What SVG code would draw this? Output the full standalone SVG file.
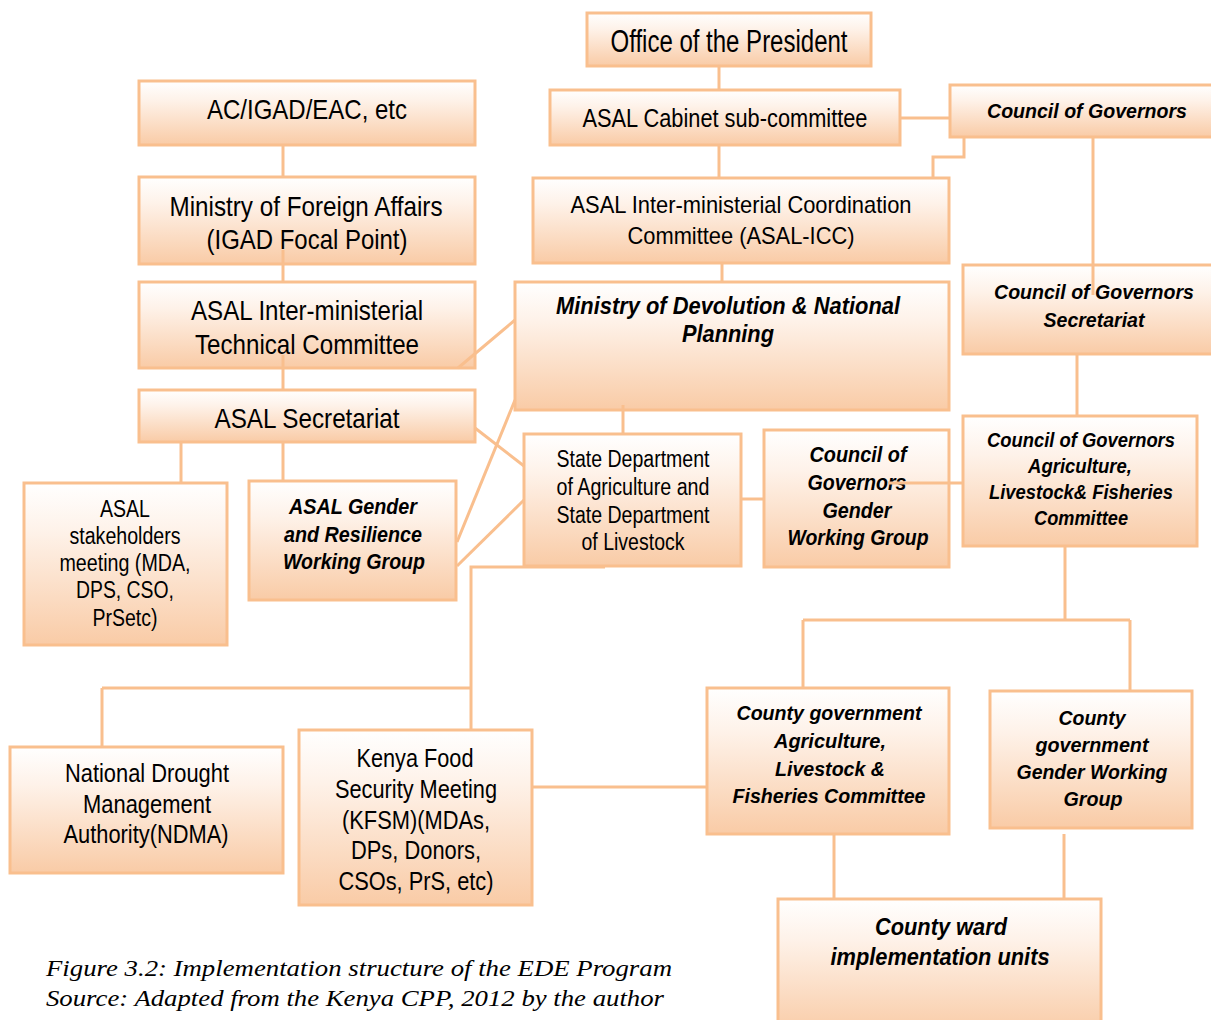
<svg xmlns="http://www.w3.org/2000/svg" width="1211" height="1020" viewBox="0 0 1211 1020">
<defs>
<linearGradient id="g" x1="0" y1="0" x2="0" y2="1">
<stop offset="0" stop-color="#FFFFFF"/>
<stop offset="0.3" stop-color="#FEF2E9"/>
<stop offset="1" stop-color="#F9CBA6"/>
</linearGradient>
<style>
.box{fill:url(#g);stroke:#F9BF8E;stroke-width:3}
.c{fill:none;stroke:#F9BF8E;stroke-width:3}
.t{font-family:"Liberation Sans",Arial,sans-serif;fill:#000;text-anchor:middle}
.bi{font-weight:bold;font-style:italic}
</style>
</defs>
<rect width="1211" height="1020" fill="#fff"/>
<g id="n-president"><rect class="box" x="587" y="13" width="284" height="53"/>
<text class="t" x="729" y="52" font-size="31" textLength="237" lengthAdjust="spacingAndGlyphs">Office of the President</text></g>
<g id="n-cabinet"><rect class="box" x="550" y="90" width="350" height="55"/>
<text class="t" x="725" y="127" font-size="25" textLength="285" lengthAdjust="spacingAndGlyphs">ASAL Cabinet sub-committee</text></g>
<g id="n-cog"><rect class="box" x="950" y="85" width="275" height="52"/>
<text class="t bi" x="1087" y="118" font-size="21" textLength="200" lengthAdjust="spacingAndGlyphs">Council of Governors</text></g>
<g id="n-ac"><rect class="box" x="139" y="81" width="336" height="64"/>
<text class="t" x="307" y="119" font-size="28" textLength="200" lengthAdjust="spacingAndGlyphs">AC/IGAD/EAC, etc</text></g>
<g id="n-mofa"><rect class="box" x="139" y="177" width="336" height="87"/>
<text class="t" x="306" y="216" font-size="28" textLength="273" lengthAdjust="spacingAndGlyphs">Ministry of Foreign Affairs</text>
<text class="t" x="307" y="249" font-size="28" textLength="201" lengthAdjust="spacingAndGlyphs">(IGAD Focal Point)</text></g>
<g id="n-icc"><rect class="box" x="533" y="178" width="416" height="85"/>
<text class="t" x="741" y="213" font-size="24" textLength="341" lengthAdjust="spacingAndGlyphs">ASAL Inter-ministerial Coordination</text>
<text class="t" x="741" y="244" font-size="24" textLength="227" lengthAdjust="spacingAndGlyphs">Committee (ASAL-ICC)</text></g>
<g id="n-tech"><rect class="box" x="139" y="282" width="336" height="86"/>
<text class="t" x="307" y="320" font-size="28" textLength="232" lengthAdjust="spacingAndGlyphs">ASAL Inter-ministerial</text>
<text class="t" x="307" y="354" font-size="28" textLength="224" lengthAdjust="spacingAndGlyphs">Technical Committee</text></g>
<g id="n-mod"><rect class="box" x="515" y="282" width="434" height="128"/>
<text class="t bi" x="728" y="314" font-size="23" textLength="344" lengthAdjust="spacingAndGlyphs">Ministry of Devolution &amp; National</text>
<text class="t bi" x="728" y="342" font-size="23" textLength="92" lengthAdjust="spacingAndGlyphs">Planning</text></g>
<g id="n-cogsec"><rect class="box" x="963" y="265" width="260" height="89"/>
<text class="t bi" x="1094" y="299" font-size="21" textLength="200" lengthAdjust="spacingAndGlyphs">Council of Governors</text>
<text class="t bi" x="1094" y="327" font-size="21" textLength="101" lengthAdjust="spacingAndGlyphs">Secretariat</text></g>
<g id="n-secretariat"><rect class="box" x="139" y="390" width="336" height="52"/>
<text class="t" x="307" y="428" font-size="28" textLength="185" lengthAdjust="spacingAndGlyphs">ASAL Secretariat</text></g>
<g id="n-statedept"><rect class="box" x="524" y="434" width="217" height="132"/>
<text class="t" x="633" y="467" font-size="23" textLength="153" lengthAdjust="spacingAndGlyphs">State Department</text>
<text class="t" x="633" y="495" font-size="23" textLength="153" lengthAdjust="spacingAndGlyphs">of Agriculture and</text>
<text class="t" x="633" y="523" font-size="23" textLength="153" lengthAdjust="spacingAndGlyphs">State Department</text>
<text class="t" x="633" y="550" font-size="23" textLength="103" lengthAdjust="spacingAndGlyphs">of Livestock</text></g>
<g id="n-coggender"><rect class="box" x="764" y="430" width="185" height="137"/>
<text class="t bi" x="858" y="462" font-size="22" textLength="97" lengthAdjust="spacingAndGlyphs">Council of</text>
<text class="t bi" x="857" y="490" font-size="22" textLength="99" lengthAdjust="spacingAndGlyphs">Governors</text>
<text class="t bi" x="857" y="518" font-size="22" textLength="69" lengthAdjust="spacingAndGlyphs">Gender</text>
<text class="t bi" x="858" y="545" font-size="22" textLength="141" lengthAdjust="spacingAndGlyphs">Working Group</text></g>
<g id="n-cogagri"><rect class="box" x="963" y="416" width="234" height="130"/>
<text class="t bi" x="1081" y="447" font-size="20" textLength="188" lengthAdjust="spacingAndGlyphs">Council of Governors</text>
<text class="t bi" x="1080" y="473" font-size="20" textLength="104" lengthAdjust="spacingAndGlyphs">Agriculture,</text>
<text class="t bi" x="1081" y="499" font-size="20" textLength="184" lengthAdjust="spacingAndGlyphs">Livestock&amp; Fisheries</text>
<text class="t bi" x="1081" y="525" font-size="20" textLength="94" lengthAdjust="spacingAndGlyphs">Committee</text></g>
<g id="n-stakeholders"><rect class="box" x="24" y="483" width="203" height="162"/>
<text class="t" x="125" y="517" font-size="23" textLength="50" lengthAdjust="spacingAndGlyphs">ASAL</text>
<text class="t" x="125" y="544" font-size="23" textLength="111" lengthAdjust="spacingAndGlyphs">stakeholders</text>
<text class="t" x="125" y="571" font-size="23" textLength="131" lengthAdjust="spacingAndGlyphs">meeting (MDA,</text>
<text class="t" x="125" y="598" font-size="23" textLength="98" lengthAdjust="spacingAndGlyphs">DPS, CSO,</text>
<text class="t" x="125" y="626" font-size="23" textLength="65" lengthAdjust="spacingAndGlyphs">PrSetc)</text></g>
<g id="n-asalgender"><rect class="box" x="249" y="481" width="207" height="119"/>
<text class="t bi" x="353" y="514" font-size="22" textLength="128" lengthAdjust="spacingAndGlyphs">ASAL Gender</text>
<text class="t bi" x="353" y="542" font-size="22" textLength="138" lengthAdjust="spacingAndGlyphs">and Resilience</text>
<text class="t bi" x="354" y="569" font-size="22" textLength="142" lengthAdjust="spacingAndGlyphs">Working Group</text></g>
<g id="n-ndma"><rect class="box" x="10" y="747" width="273" height="126"/>
<text class="t" x="147" y="782" font-size="26" textLength="164" lengthAdjust="spacingAndGlyphs">National Drought</text>
<text class="t" x="147" y="813" font-size="26" textLength="128" lengthAdjust="spacingAndGlyphs">Management</text>
<text class="t" x="146" y="843" font-size="26" textLength="165" lengthAdjust="spacingAndGlyphs">Authority(NDMA)</text></g>
<g id="n-kfsm"><rect class="box" x="299" y="730" width="233" height="175"/>
<text class="t" x="415" y="767" font-size="26" textLength="117" lengthAdjust="spacingAndGlyphs">Kenya Food</text>
<text class="t" x="416" y="798" font-size="26" textLength="162" lengthAdjust="spacingAndGlyphs">Security Meeting</text>
<text class="t" x="416" y="829" font-size="26" textLength="148" lengthAdjust="spacingAndGlyphs">(KFSM)(MDAs,</text>
<text class="t" x="416" y="859" font-size="26" textLength="130" lengthAdjust="spacingAndGlyphs">DPs, Donors,</text>
<text class="t" x="416" y="890" font-size="26" textLength="155" lengthAdjust="spacingAndGlyphs">CSOs, PrS, etc)</text></g>
<g id="n-countyagri"><rect class="box" x="707" y="688" width="242" height="146"/>
<text class="t bi" x="829" y="720" font-size="21" textLength="185" lengthAdjust="spacingAndGlyphs">County government</text>
<text class="t bi" x="830" y="748" font-size="21" textLength="112" lengthAdjust="spacingAndGlyphs">Agriculture,</text>
<text class="t bi" x="830" y="776" font-size="21" textLength="110" lengthAdjust="spacingAndGlyphs">Livestock &amp;</text>
<text class="t bi" x="829" y="803" font-size="21" textLength="193" lengthAdjust="spacingAndGlyphs">Fisheries Committee</text></g>
<g id="n-countygender"><rect class="box" x="990" y="691" width="202" height="137"/>
<text class="t bi" x="1092" y="725" font-size="21" textLength="67" lengthAdjust="spacingAndGlyphs">County</text>
<text class="t bi" x="1092" y="752" font-size="21" textLength="113" lengthAdjust="spacingAndGlyphs">government</text>
<text class="t bi" x="1092" y="779" font-size="21" textLength="151" lengthAdjust="spacingAndGlyphs">Gender Working</text>
<text class="t bi" x="1093" y="806" font-size="21" textLength="59" lengthAdjust="spacingAndGlyphs">Group</text></g>
<g id="n-ward"><rect class="box" x="778" y="899" width="323" height="135"/>
<text class="t bi" x="941" y="935" font-size="23" textLength="132" lengthAdjust="spacingAndGlyphs">County ward</text>
<text class="t bi" x="940" y="965" font-size="23" textLength="219" lengthAdjust="spacingAndGlyphs">implementation units</text></g>
<g id="connectors">
<path class="c" d="M719,66 V90"/>
<path class="c" d="M900,118 H950"/>
<path class="c" d="M719,145 V178"/>
<path class="c" d="M964,137 V157 H933 V178"/>
<path class="c" d="M1093,137 V295"/>
<path class="c" d="M283,145 V177"/>
<path class="c" d="M283,250 V282"/>
<path class="c" d="M283,355 V390"/>
<path class="c" d="M181,442 V483"/>
<path class="c" d="M283,442 V481"/>
<path class="c" d="M722,263 V282"/>
<path class="c" d="M458,368 L515,320"/>
<path class="c" d="M475,428 L524,466"/>
<path class="c" d="M457,542 L515,400"/>
<path class="c" d="M457,566 L524,500"/>
<path class="c" d="M623,405 V434"/>
<path class="c" d="M741,499 H764"/>
<path class="c" d="M888,483 H963"/>
<path class="c" d="M1077,354 V416"/>
<path class="c" d="M1065,546 V620 M803,620 H1130 M803,620 V688 M1130,620 V691"/>
<path class="c" d="M605,567 H471 V730 M102,688 H471 M102,688 V747"/>
<path class="c" d="M532,787 H707"/>
<path class="c" d="M834,834 V899"/>
<path class="c" d="M1064,834 V899"/>
</g>
<g id="caption" font-family="Liberation Serif, Times New Roman, serif" font-style="italic" font-size="23" fill="#000">
<text x="46" y="976" textLength="626" lengthAdjust="spacingAndGlyphs">Figure 3.2: Implementation structure of the EDE Program</text>
<text x="46" y="1006" textLength="618" lengthAdjust="spacingAndGlyphs">Source: Adapted from the Kenya CPP, 2012 by the author</text>
</g>
</svg>
